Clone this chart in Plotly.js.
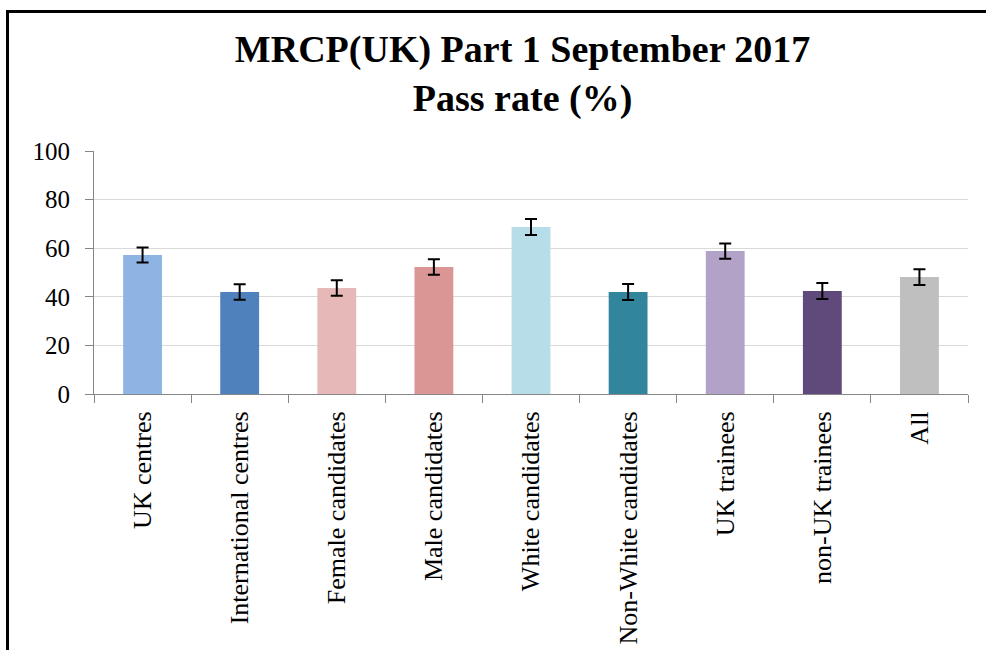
<!DOCTYPE html>
<html>
<head>
<meta charset="utf-8">
<script src="https://cdn.plot.ly/plotly-3.0.1.min.js"></script>
<style>
html,body{margin:0;padding:0;background:#fff;}
#wrap{position:relative;width:986px;height:650px;overflow:hidden;}
#chart{position:absolute;left:0;top:0;width:986px;height:650px;}
#frame{position:absolute;left:6px;top:10px;width:1000px;height:700px;border-left:3px solid #000;border-top:3px solid #000;pointer-events:none;z-index:10;}
</style>
</head>
<body>
<div id="wrap"><div id="chart"></div><div id="frame"></div></div>
<script>
const categories = ["UK centres","International centres","Female candidates","Male candidates","White candidates","Non-White candidates","UK trainees","non-UK trainees","All"];
const passRate = [57.2, 42.0, 43.6, 52.3, 68.7, 42.0, 58.8, 42.4, 48.1];
const errorMargin = [3.1, 3.2, 3.2, 3.2, 3.3, 3.3, 3.1, 3.3, 3.2];
const barColors = ["#8EB4E3","#4F81BD","#E6B9B8","#D99694","#B7DEE8","#31859C","#B3A2C7","#604A7B","#BFBFBF"];
const yTicks = [0,20,40,60,80,100];

const trace = {
  type: "bar",
  x: categories,
  y: passRate,
  marker: {color: barColors},
  error_y: {type: "data", array: errorMargin, visible: true, color: "#000", thickness: 2, width: 6},
  hoverinfo: "x+y"
};

const layout = {
  width: 986, height: 650,
  margin: {l: 94, r: 18, t: 151, b: 256},
  paper_bgcolor: "#fff", plot_bgcolor: "#fff",
  showlegend: false,
  bargap: 0.6,
  title: {
    text: "<b>MRCP(UK) Part 1 September 2017<br>Pass rate (%)</b>",
    font: {family: "Liberation Serif, serif", size: 38, color: "#000"},
    x: 0.53, xref: "container", xanchor: "center",
    y: 0.905, yref: "container", yanchor: "top"
  },
  xaxis: {
    type: "category",
    tickangle: -90,
    tickson: "boundaries",
    ticks: "outside", ticklen: 8, tickcolor: "#868686", tickwidth: 1,
    showline: true, linecolor: "#868686", linewidth: 1,
    showgrid: false,
    tickfont: {family: "Liberation Serif, serif", size: 26, color: "#000"},
    ticklabelstandoff: 6
  },
  yaxis: {
    range: [0, 100],
    tickvals: yTicks,
    ticktext: yTicks.map(String),
    ticks: "outside", ticklen: 8, tickcolor: "#868686", tickwidth: 1,
    showline: true, linecolor: "#868686", linewidth: 1,
    showgrid: true, gridcolor: "#d9d9d9", gridwidth: 1,
    zeroline: false,
    tickfont: {family: "Liberation Serif, serif", size: 25, color: "#000"},
    ticklabelstandoff: 10
  }
};

Plotly.newPlot("chart", [trace], layout, {displayModeBar: false, staticPlot: true});
</script>
</body>
</html>
